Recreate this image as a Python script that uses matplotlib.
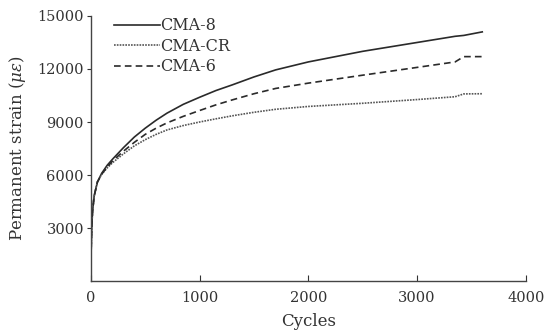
import matplotlib
matplotlib.use('Agg')
import matplotlib.pyplot as plt

# cycles and permanent strain readings
cycles = [0, 3, 8, 15, 30, 60, 100, 150, 200, 300, 400, 500, 600, 700, 850, 1000,
          1150, 1300, 1500, 1700, 2000, 2500, 3000, 3350, 3430, 3600]
cma8 = [0, 1800, 3000, 3900, 4800, 5600, 6100, 6550, 6900, 7550, 8150, 8650,
        9100, 9500, 10000, 10400, 10780, 11100, 11550, 11950, 12400, 13000,
        13500, 13850, 13900, 14100]
cma_cr = [0, 1800, 3000, 3900, 4800, 5600, 6050, 6400, 6700, 7200, 7650, 8000,
          8300, 8550, 8800, 9000, 9180, 9350, 9550, 9720, 9880, 10060,
          10270, 10430, 10590, 10600]
cma6 = [0, 1800, 3000, 3900, 4800, 5600, 6050, 6450, 6800, 7350, 7850, 8300,
        8650, 8950, 9320, 9650, 9970, 10250, 10600, 10900, 11200, 11650,
        12090, 12400, 12700, 12700]

x_ticks = [0, 1000, 2000, 3000, 4000]
y_ticks = [3000, 6000, 9000, 12000, 15000]

plt.rcParams['font.family'] = ['DejaVu Serif']
plt.rcParams['mathtext.fontset'] = 'dejavuserif'

fig = plt.figure(figsize=(5.54, 3.33), dpi=100)
ax = fig.add_axes([0.164, 0.156, 0.785, 0.796])

col = '#2a2a2a'
ax.plot(cycles, cma8, color=col, lw=1.2, ls='-', label='CMA-8')
ax.plot(cycles, cma_cr, color='#555555', lw=1.2, ls=(0, (1, 0.7)), label='CMA-CR')
ax.plot(cycles, cma6, color=col, lw=1.2, ls=(0, (4, 2.5)), label='CMA-6')

ax.set_xlim(0, 4000)
ax.set_ylim(0, 15000)
ax.set_xticks(x_ticks)
ax.set_yticks(y_ticks)
ax.spines['top'].set_visible(False)
ax.spines['right'].set_visible(False)
for s in ['left', 'bottom']:
    ax.spines[s].set_color('#444444')
    ax.spines[s].set_linewidth(1.0)
ax.tick_params(axis='x', direction='in', length=4, labelsize=10.5, colors='#333333', pad=7)
ax.tick_params(axis='y', direction='out', length=3, labelsize=10.5, colors='#333333', pad=2)

ax.set_xlabel('Cycles', fontsize=12, color='#333333', labelpad=6)
ax.set_ylabel(r'Permanent strain ($\mu\varepsilon$)', fontsize=12, color='#333333', labelpad=7)

ax.legend(loc='upper left', bbox_to_anchor=(0.02, 1.05), frameon=False, fontsize=11.5,
          handlelength=2.9, handletextpad=0.0, labelspacing=0.22, labelcolor='#333333')

fig.savefig('out.png', dpi=100)
